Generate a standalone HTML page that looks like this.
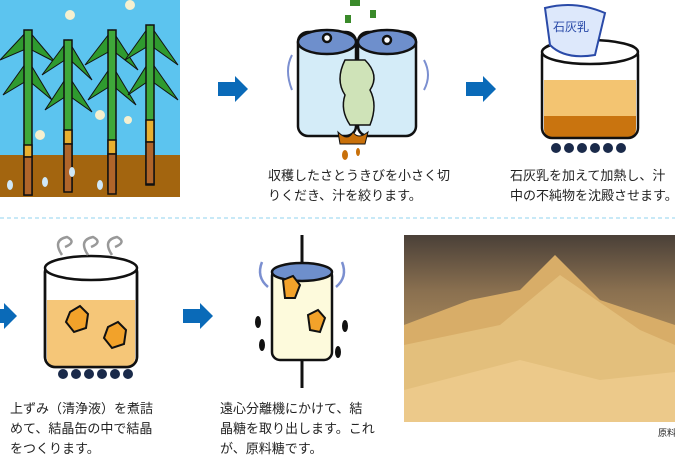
<!DOCTYPE html>
<html><head><meta charset="utf-8"><style>
body{margin:0;width:675px;height:454px;background:#fff;overflow:hidden;position:relative;font-family:"Liberation Sans","Noto Sans CJK JP",sans-serif;}
.t{position:absolute;font-size:13px;line-height:20px;color:#222;white-space:nowrap;}
svg{position:absolute;left:0;top:0}
</style></head><body>
<svg width="675" height="454" viewBox="0 0 675 454">
<defs>
<linearGradient id="sug" x1="0" y1="0" x2="0" y2="1"><stop offset="0" stop-color="#4a4038"/><stop offset="0.3" stop-color="#8a7050"/><stop offset="1" stop-color="#d9b06a"/></linearGradient>
</defs>
<!-- cane field -->
<rect x="0" y="0" width="180" height="155" fill="#5cc4ef"/>
<rect x="0" y="155" width="180" height="42" fill="#a3650f"/>
<g fill="#2f9a2f" stroke="#111" stroke-width="1">
<path d="M28 30 L0 60 L28 48 L55 62 Z"/><path d="M28 60 L3 95 L28 80 L52 100 Z"/>
<path d="M68 40 L42 75 L68 58 L92 80 Z"/><path d="M68 75 L45 110 L68 95 L92 112 Z"/>
<path d="M112 30 L85 65 L112 50 L138 70 Z"/><path d="M112 65 L88 100 L112 85 L136 105 Z"/>
<path d="M150 25 L125 60 L150 45 L178 65 Z"/><path d="M150 60 L128 95 L150 80 L178 100 Z"/>
</g>
<g stroke="#111" stroke-width="1.5">
<rect x="24" y="30" width="8" height="165" fill="#3fa83a"/><rect x="24" y="145" width="8" height="12" fill="#e8b030"/><rect x="24" y="157" width="8" height="38" fill="#b0652a"/>
<rect x="64" y="40" width="8" height="150" fill="#3fa83a"/><rect x="64" y="130" width="8" height="14" fill="#e8b030"/><rect x="64" y="144" width="8" height="48" fill="#b0652a"/>
<rect x="108" y="30" width="8" height="160" fill="#3fa83a"/><rect x="108" y="140" width="8" height="14" fill="#e8b030"/><rect x="108" y="154" width="8" height="40" fill="#b0652a"/>
<rect x="146" y="25" width="8" height="160" fill="#3fa83a"/><rect x="146" y="120" width="8" height="22" fill="#e8b030"/><rect x="146" y="142" width="8" height="42" fill="#b0652a"/>
</g>
<g fill="#f5f0d0"><circle cx="70" cy="15" r="5"/><circle cx="130" cy="5" r="5"/><circle cx="100" cy="115" r="5"/><circle cx="40" cy="135" r="5"/><circle cx="128" cy="120" r="4"/></g>
<g fill="#cfe8f8"><ellipse cx="10" cy="185" rx="3" ry="5"/><ellipse cx="45" cy="182" rx="3" ry="5"/><ellipse cx="100" cy="185" rx="3" ry="5"/><ellipse cx="72" cy="172" rx="3" ry="5"/></g>
<!-- arrows -->
<g fill="#0a6ab8">
<path d="M218 82 H235 V76 L248 89 L235 102 V96 H218 Z"/>
<path d="M466 82 H483 V76 L496 89 L483 102 V96 H466 Z"/>
<path d="M0 309 H4 V303 L17 316 L4 329 V323 H0 Z"/>
<path d="M183 309 H200 V303 L213 316 L200 329 V323 H183 Z"/>
</g>
<!-- roller -->
<g stroke="#111" stroke-width="2.5">
<rect x="298" y="32" width="58" height="104" rx="10" fill="#d4ecf8"/>
<rect x="358" y="32" width="58" height="104" rx="10" fill="#d4ecf8"/>
<ellipse cx="327" cy="42" rx="29" ry="12" fill="#6e8fcc"/>
<ellipse cx="387" cy="42" rx="29" ry="12" fill="#6e8fcc"/>
<circle cx="327" cy="38" r="4" fill="#fff"/><circle cx="387" cy="40" r="4" fill="#fff"/>
<path d="M345 60 q-10 20 0 35 q-5 15 5 30 h20 q8-20 0-35 q10-15 -5-30 Z" fill="#cfe3b8" stroke-width="1.5"/>
<path d="M338 132 q10 10 15 0 q5 8 15 0 l-3 12 h-25 Z" fill="#c8700a" stroke-width="1"/>
</g>
<g fill="#c8700a"><ellipse cx="345" cy="155" rx="3" ry="5"/><ellipse cx="358" cy="152" rx="2" ry="4"/></g>
<g fill="none" stroke="#7b8fd0" stroke-width="2"><path d="M292 55 q-8 15 0 35"/><path d="M424 60 q8 15 0 30"/></g>
<g fill="#3a8a2a"><rect x="350" y="0" width="10" height="6"/><rect x="370" y="10" width="6" height="8"/><rect x="345" y="15" width="6" height="8"/></g>
<!-- pot 1 -->
<g stroke="#111" stroke-width="2.5">
<path d="M544 80 H636 V128 q0 10 -10 10 H554 q-10 0 -10-10 Z" fill="#f3c471" stroke="none"/>
<path d="M544 116 H636 V128 q0 10 -10 10 H554 q-10 0 -10-10 Z" fill="#c9740f" stroke="none"/>
<rect x="542" y="45" width="96" height="93" rx="10" fill="none"/>
<ellipse cx="590" cy="52" rx="48" ry="12" fill="#fff"/>
<path d="M545 8 q30 -8 60 5 l-10 42 q-30 5 -45 -10 Z" fill="#dde8fb" stroke="#2a4aa8" stroke-width="2"/>
</g>
<text x="553" y="31" font-size="12" fill="#2a4aa8" font-family="Noto Sans CJK JP">石灰乳</text>
<g fill="#1a2a4a"><circle cx="556" cy="148" r="5"/><circle cx="569" cy="148" r="5"/><circle cx="582" cy="148" r="5"/><circle cx="595" cy="148" r="5"/><circle cx="608" cy="148" r="5"/><circle cx="621" cy="148" r="5"/></g>
<!-- dashed line -->
<line x1="0" y1="218" x2="675" y2="218" stroke="#a8dcf2" stroke-width="1.2" stroke-dasharray="4 3"/>
<!-- pot 2 -->
<g stroke="#111" stroke-width="2.5">
<rect x="45" y="262" width="92" height="105" rx="10" fill="#fff"/>
<path d="M47 300 H135 V357 q0 10 -10 10 H57 q-10 0 -10-10 Z" fill="#f5c678" stroke="none"/>
<rect x="45" y="262" width="92" height="105" rx="10" fill="none"/>
<ellipse cx="91" cy="268" rx="46" ry="12" fill="#fff"/>
<polygon points="70,312 80,306 88,314 86,328 74,332 66,322" fill="#f2a22a" stroke-width="2"/>
<polygon points="108,327 118,322 126,330 124,344 112,348 104,338" fill="#f2a22a" stroke-width="2"/>
</g>
<g fill="none" stroke="#999" stroke-width="2.5"><path d="M62 255 q-10-15 5-18 q10 5 -2 10"/><path d="M88 255 q-10-15 5-18 q10 5 -2 10"/><path d="M112 255 q-10-15 5-18 q10 5 -2 10"/></g>
<g fill="#1a2a4a"><circle cx="63" cy="374" r="5"/><circle cx="76" cy="374" r="5"/><circle cx="89" cy="374" r="5"/><circle cx="102" cy="374" r="5"/><circle cx="115" cy="374" r="5"/><circle cx="128" cy="374" r="5"/></g>
<!-- centrifuge -->
<line x1="302" y1="235" x2="302" y2="270" stroke="#111" stroke-width="3"/>
<line x1="302" y1="355" x2="302" y2="388" stroke="#111" stroke-width="3"/>
<g stroke="#111" stroke-width="2.5">
<rect x="272" y="268" width="60" height="92" rx="8" fill="#fdfadc"/>
<ellipse cx="302" cy="272" rx="30" ry="9" fill="#6e8fcc"/>
<polygon points="283,280 293,276 300,285 295,298 285,298" fill="#f2a22a" stroke-width="2"/>
<polygon points="308,315 318,310 325,318 320,332 310,330" fill="#f2a22a" stroke-width="2"/>
</g>
<g fill="none" stroke="#7b8fd0" stroke-width="2.5"><path d="M262 262 q-6 15 6 25"/><path d="M342 262 q6 15 -6 25"/></g>
<g fill="#111"><ellipse cx="258" cy="322" rx="3" ry="6"/><ellipse cx="262" cy="345" rx="3" ry="6"/><ellipse cx="345" cy="326" rx="3" ry="6"/><ellipse cx="338" cy="352" rx="3" ry="6"/></g>
<!-- photo -->
<rect x="404" y="235" width="271" height="187" fill="url(#sug)"/>
<polygon points="404,325 470,300 520,290 555,255 600,300 675,325 675,422 404,422" fill="#d8ad68"/>
<polygon points="404,345 500,325 560,275 640,330 675,345 675,422 404,422" fill="#e3bf7c"/>
<polygon points="404,390 520,360 600,380 675,372 675,422 404,422" fill="#ecc98a"/>
</svg>
<div class="t" style="left:268px;top:166px">収穫したさとうきびを小さく切<br>りくだき、汁を絞ります。</div>
<div class="t" style="left:510px;top:166px">石灰乳を加えて加熱し、汁<br>中の不純物を沈殿させます。</div>
<div class="t" style="left:10px;top:399px">上ずみ（清浄液）を煮詰<br>めて、結晶缶の中で結晶<br>をつくります。</div>
<div class="t" style="left:220px;top:399px">遠心分離機にかけて、結<br>晶糖を取り出します。これ<br>が、原料糖です。</div>
<div class="t" style="left:658px;top:423px;font-size:9px">原料</div>
</body></html>
